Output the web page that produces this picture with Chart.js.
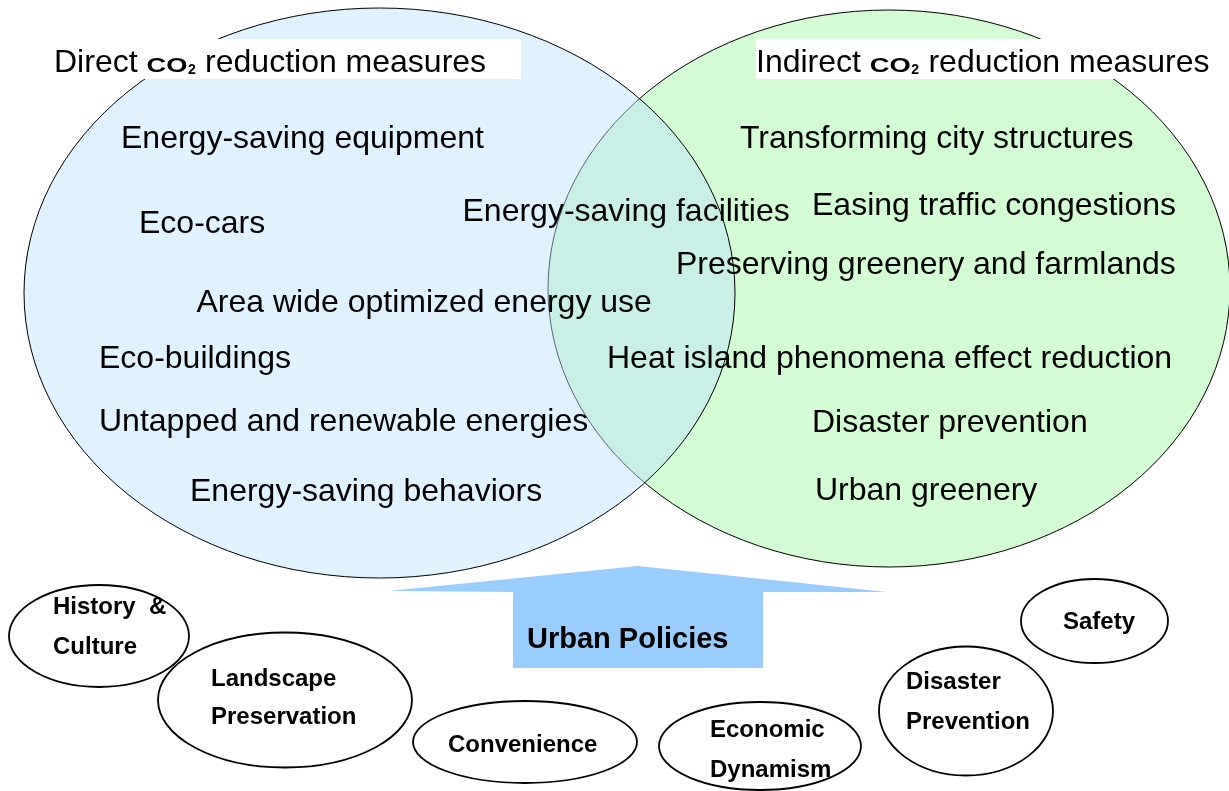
<!DOCTYPE html>
<html><head><meta charset="utf-8">
<script src="https://cdn.jsdelivr.net/npm/chart.js@4.4.1/dist/chart.umd.min.js"></script>
<style>html,body{margin:0;padding:0;background:#fff;overflow:hidden}#wrap{width:1229px;height:791px;position:relative}</style>
</head><body><div id="wrap"><canvas id="c"></canvas></div>
<script>
// ---- Diagram data ----
const vennNames = ['Direct', 'Indirect'];
const vennCenterX = [379.5, 889];
const vennCenterY = [293, 288.5];
const vennRadiusX = [355.5, 341];
const vennRadiusY = [285, 278.5];
const titleX = [54, 756];
const titleY = [60, 60];

const measureLabels = [
  'Energy-saving equipment', 'Eco-cars', 'Energy-saving facilities', 'Area wide optimized energy use',
  'Eco-buildings', 'Untapped and renewable energies', 'Energy-saving behaviors',
  'Transforming city structures', 'Easing traffic congestions', 'Preserving greenery and farmlands',
  'Heat island phenomena effect reduction', 'Disaster prevention', 'Urban greenery'
];
const measureX = [121, 139, 462.5, 196.5, 99, 99, 190, 740, 812, 676, 607, 812, 815];
const measureY = [136, 221, 209, 300, 356, 419.5, 489, 136, 203, 262, 356, 420, 488];

const policyLines = [['History  &', 'Culture'], ['Landscape', 'Preservation'], ['Convenience'],
  ['Economic', 'Dynamism'], ['Disaster', 'Prevention'], ['Safety']];
const policyCenterX = [99, 285, 525, 760, 966, 1094.5];
const policyCenterY = [636, 700, 742, 746, 711, 621];
const policyRadiusX = [90, 127, 112, 101, 87, 73.5];
const policyRadiusY = [51, 67.5, 41, 44, 64.5, 42];
const policyTextX = [53, 211, 448, 710, 906, 1063];
const policyTextY = [[605, 645], [677, 715], [743], [728, 768], [680, 720], [620]];

const arrowX = [389, 638, 887, 763, 763, 513, 513];
const arrowY = [591, 566, 592, 592, 668, 668, 592];
const arrowLabel = 'Urban Policies';
const arrowLabelX = 527;
const arrowLabelY = 638;

const FONT = '"Liberation Sans", Arial, Helvetica, sans-serif';

const diagramPlugin = {
  id: 'venn',
  afterDatasetsDraw(chart) {
    const ctx = chart.ctx;
    const xs = chart.scales.x, ys = chart.scales.y;
    const px = v => xs.getPixelForValue(v);
    const py = v => ys.getPixelForValue(v);
    const rxp = (c, r) => Math.abs(px(c + r) - px(c));
    const ryp = (c, r) => Math.abs(py(c + r) - py(c));
    function ell(cx, cy, rx, ry) {
      ctx.beginPath();
      ctx.ellipse(px(cx), py(cy), rxp(cx, rx), ryp(cy, ry), 0, 0, Math.PI * 2);
    }
    ctx.save();
    // right (indirect) ellipse, opaque green
    ell(vennCenterX[1], vennCenterY[1], vennRadiusX[1], vennRadiusY[1]);
    ctx.fillStyle = 'rgb(212,252,212)';
    ctx.fill();
    ctx.lineWidth = 1;
    ctx.strokeStyle = '#000';
    ctx.stroke();
    // left (direct) ellipse, translucent blue on top
    ell(vennCenterX[0], vennCenterY[0], vennRadiusX[0], vennRadiusY[0]);
    ctx.fillStyle = 'rgba(186,226,253,0.45)';
    ctx.fill();
    ctx.strokeStyle = '#000';
    ctx.stroke();

    // title boxes
    ctx.fillStyle = '#fff';
    ctx.fillRect(px(48), py(39), px(521) - px(48), py(79) - py(39));
    ctx.fillRect(px(756), py(39), px(1210) - px(756), py(79) - py(39));

    // titles
    ctx.fillStyle = '#000';
    ctx.textBaseline = 'alphabetic';
    ctx.textAlign = 'left';
    for (let i = 0; i < vennNames.length; i++) {
      let x = px(titleX[i]);
      const base = py(titleY[i]) + 11.5;
      ctx.font = '32px ' + FONT;
      ctx.fillText(vennNames[i] + ' ', x, base);
      x += ctx.measureText(vennNames[i] + ' ').width;
      ctx.save();
      ctx.font = 'bold 21px ' + FONT;
      ctx.translate(x, base);
      ctx.scale(1.3, 1);
      ctx.fillText('CO', 0, 0);
      const w = ctx.measureText('CO').width * 1.3;
      ctx.restore();
      x += w;
      ctx.font = 'bold 14px ' + FONT;
      ctx.fillText('2', x + 0.5, base + 2);
      x += ctx.measureText('2').width + 1;
      ctx.font = '32px ' + FONT;
      ctx.fillText(' reduction measures', x, base);
    }

    // measure labels
    ctx.font = '32px ' + FONT;
    for (let i = 0; i < measureLabels.length; i++) {
      ctx.fillText(measureLabels[i], px(measureX[i]), py(measureY[i]) + 11.5);
    }

    // arrow
    ctx.beginPath();
    for (let i = 0; i < arrowX.length; i++) {
      if (i === 0) ctx.moveTo(px(arrowX[i]), py(arrowY[i]));
      else ctx.lineTo(px(arrowX[i]), py(arrowY[i]));
    }
    ctx.closePath();
    ctx.fillStyle = 'rgb(153,204,255)';
    ctx.fill();
    ctx.fillStyle = '#000';
    ctx.font = 'bold 29px ' + FONT;
    ctx.fillText(arrowLabel, px(arrowLabelX), py(arrowLabelY) + 10.4);

    // policy ellipses
    for (let i = 0; i < policyLines.length; i++) {
      ell(policyCenterX[i], policyCenterY[i], policyRadiusX[i], policyRadiusY[i]);
      ctx.fillStyle = '#fff';
      ctx.fill();
      ctx.lineWidth = 1.8;
      ctx.strokeStyle = '#000';
      ctx.stroke();
      ctx.fillStyle = '#000';
      ctx.font = 'bold 24px ' + FONT;
      policyLines[i].forEach((t, j) => {
        ctx.fillText(t, px(policyTextX[i]), py(policyTextY[i][j]) + 8.6);
      });
    }
    ctx.restore();
  }
};

new Chart(document.getElementById('c'), {
  type: 'scatter',
  data: {
    datasets: [
      { label: 'Venn', data: vennCenterX.map((x, i) => ({ x, y: vennCenterY[i] })), pointRadius: 0 },
      { label: 'Policies', data: policyCenterX.map((x, i) => ({ x, y: policyCenterY[i] })), pointRadius: 0 },
      { label: 'Measures', data: measureX.map((x, i) => ({ x, y: measureY[i] })), pointRadius: 0 }
    ]
  },
  options: {
    responsive: true,
    maintainAspectRatio: false,
    animation: false,
    events: [],
    layout: { padding: 0 },
    scales: {
      x: { type: 'linear', min: 0, max: 1229, display: false },
      y: { type: 'linear', min: 0, max: 791, reverse: true, display: false }
    },
    plugins: { legend: { display: false }, tooltip: { enabled: false } }
  },
  plugins: [diagramPlugin]
});
</script>
</body></html>
